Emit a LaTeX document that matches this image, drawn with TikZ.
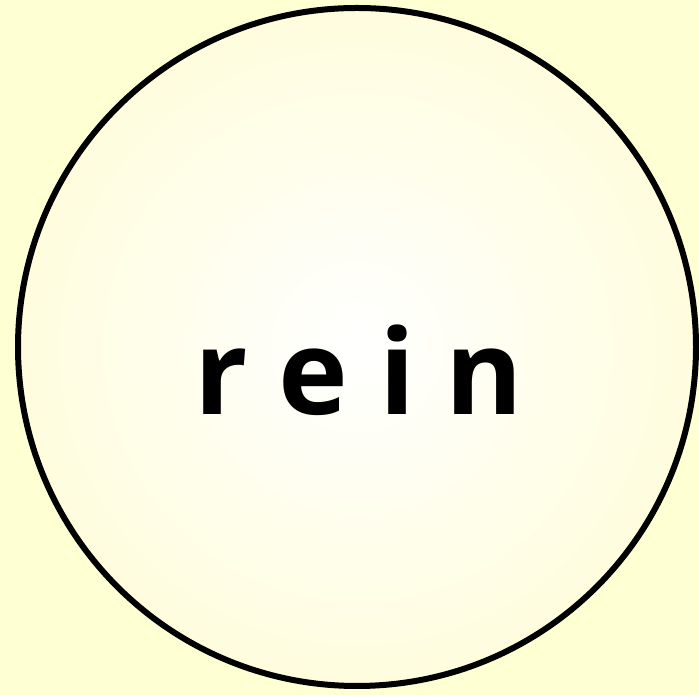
\documentclass[tikz,border=0pt]{standalone}
\usepackage{fontspec}
\newfontfamily\labelfont{Open Sans}
\definecolor{bgcol}{RGB}{255,255,212}
\definecolor{edgecol}{RGB}{255,251,188}
\pgfdeclareradialshading{ballglow}{\pgfpoint{0bp}{0bp}}{color(0bp)=(white); color(50bp)=(edgecol)}
\tikzset{
  ball/.style={circle, draw=black, line width=6pt, shading=ballglow, minimum size=678pt, inner sep=0pt},
  word/.style={font=\labelfont\bfseries\fontsize{118}{118}\selectfont, text=black, inner sep=0pt, anchor=base}
}
\begin{document}
\begin{tikzpicture}[x=1pt,y=1pt]
  \fill[bgcol] (0,0) rectangle (699,695);
  \useasboundingbox (0,0) rectangle (699,695);
  \node[ball] (c) at (357,348) {};
  \node[word] (t) at (359,280) {r e i n};
\end{tikzpicture}
\end{document}
